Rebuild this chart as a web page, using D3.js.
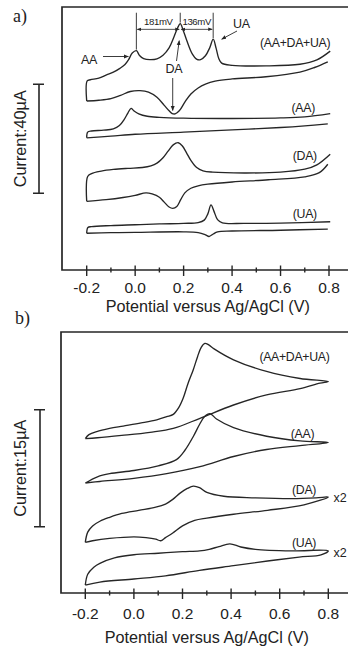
<!DOCTYPE html>
<html>
<head>
<meta charset="utf-8">
<script src="https://cdn.jsdelivr.net/npm/d3@7"></script>
<style>
  html, body { margin: 0; padding: 0; background: #fff; }
  svg { display: block; }
  text { fill: #222; }
</style>
</head>
<body>
<svg id="chart" width="348" height="654"></svg>
<script>
// ---- axis ticks -----------------------------------------------------------
const majorTicks = [-0.2, 0.0, 0.2, 0.4, 0.6, 0.8];
const minorTicks = [-0.1, 0.1, 0.3, 0.5, 0.7];
const tickLabels = ["-0.2", "0.0", "0.2", "0.4", "0.6", "0.8"];
const axisTitle = "Potential versus Ag/AgCl (V)";

// ---- (a) cyclic voltammograms: [potential V, current µA (stacked)] -------
const mixA_fwd = [[-0.2,62.0],[-0.198,69.4],[-0.185,69.8],[-0.15,70.4],[-0.118,71.6],[-0.09,72.6],[-0.063,74.0],[-0.042,75.4],[-0.027,77.2],[-0.012,79.6],[0.005,80.5],[0.018,78.7],[0.035,77.6],[0.061,77.2],[0.09,77.5],[0.115,78.8],[0.14,81.5],[0.16,85.5],[0.175,88.8],[0.186,90.4],[0.198,88.0],[0.213,84.2],[0.235,79.4],[0.255,77.3],[0.27,77.2],[0.29,78.6],[0.308,81.6],[0.322,84.7],[0.334,81.4],[0.345,77.6],[0.357,75.9],[0.4,75.1],[0.54,74.9],[0.68,75.5],[0.75,77.1],[0.805,80.3]];
const mixA_rev = [[0.795,76.4],[0.74,74.3],[0.68,72.6],[0.54,70.9],[0.4,70.1],[0.33,69.3],[0.29,68.2],[0.26,66.8],[0.23,64.6],[0.205,61.6],[0.182,58.4],[0.165,57.3],[0.153,57.4],[0.14,58.4],[0.12,60.4],[0.09,63.4],[0.055,65.3],[0.02,65.8],[-0.02,65.5],[-0.06,64.1],[-0.1,62.9],[-0.15,62.3],[-0.2,62.0]];

const aaA_fwd = [[-0.2,48.5],[-0.196,50.6],[-0.18,51.0],[-0.13,51.3],[-0.09,51.8],[-0.065,53.0],[-0.045,55.3],[-0.03,57.6],[-0.017,59.3],[-0.005,58.4],[0.015,57.3],[0.05,56.4],[0.1,56.0],[0.2,55.7],[0.4,55.6],[0.6,55.8],[0.7,56.2],[0.805,57.4]];
const aaA_rev = [[0.795,53.6],[0.7,52.9],[0.6,52.3],[0.4,51.4],[0.2,50.6],[0.0,49.8],[-0.1,49.1],[-0.2,48.5]];

const daA_fwd = [[-0.2,25.2],[-0.196,34.3],[-0.18,35.4],[-0.14,36.3],[-0.09,36.9],[-0.03,37.3],[0.03,37.6],[0.065,38.2],[0.09,39.2],[0.115,41.2],[0.135,43.5],[0.157,45.9],[0.178,46.7],[0.195,45.5],[0.212,43.0],[0.23,40.2],[0.254,37.6],[0.28,36.4],[0.32,35.9],[0.45,35.6],[0.6,35.9],[0.7,37.0],[0.75,38.6],[0.805,42.5]];
const daA_rev = [[0.795,38.8],[0.76,35.7],[0.7,34.2],[0.55,33.1],[0.4,32.3],[0.3,31.5],[0.26,30.9],[0.23,30.0],[0.205,28.3],[0.188,25.8],[0.172,23.3],[0.155,22.6],[0.14,23.1],[0.12,24.9],[0.1,26.7],[0.07,27.9],[0.045,28.3],[0.0,27.4],[-0.05,26.6],[-0.12,25.8],[-0.2,25.2]];

const uaA_fwd = [[-0.2,13.5],[-0.195,15.6],[-0.18,15.9],[-0.1,16.3],[0.0,16.6],[0.1,16.9],[0.2,17.1],[0.26,17.4],[0.285,18.3],[0.3,20.6],[0.313,23.9],[0.325,21.6],[0.34,18.5],[0.36,17.3],[0.45,17.1],[0.6,17.2],[0.805,17.7]];
const uaA_rev = [[0.795,15.0],[0.6,14.6],[0.4,14.3],[0.34,14.0],[0.322,13.2],[0.305,12.3],[0.29,12.9],[0.26,13.7],[0.2,14.0],[0.0,13.8],[-0.1,13.7],[-0.2,13.5]];

// ---- (b) voltammograms: [potential V, current µA (stacked)] ---------------
const mixB_fwd = [[-0.2,19.8],[-0.185,20.3],[-0.153,20.7],[-0.1,21.1],[-0.044,21.4],[0.03,21.8],[0.094,22.2],[0.135,22.6],[0.162,22.9],[0.185,23.8],[0.203,25.0],[0.222,26.8],[0.244,28.6],[0.262,30.3],[0.277,31.5],[0.292,32.0],[0.308,31.8],[0.33,31.3],[0.41,29.9],[0.546,28.4],[0.684,27.5],[0.8,27.1]];
const mixB_rev = [[0.8,27.1],[0.766,26.9],[0.684,26.2],[0.546,25.4],[0.41,24.1],[0.272,22.4],[0.162,21.1],[0.066,20.6],[-0.05,20.2],[-0.15,19.9],[-0.2,19.8]];

const aaB_fwd = [[-0.2,14.1],[-0.15,14.9],[-0.1,15.3],[0.0,15.7],[0.1,16.3],[0.175,17.1],[0.21,18.3],[0.245,20.1],[0.27,21.6],[0.29,22.6],[0.313,23.0],[0.34,22.3],[0.41,21.2],[0.546,20.1],[0.684,19.5],[0.8,19.3]];
const aaB_rev = [[0.8,19.3],[0.684,18.9],[0.546,18.4],[0.41,17.5],[0.272,16.2],[0.135,15.3],[0.0,14.7],[-0.14,14.3],[-0.2,14.1]];

const daB_fwd = [[-0.2,6.5],[-0.19,7.8],[-0.17,8.6],[-0.14,9.2],[-0.1,9.7],[-0.05,10.2],[0.02,10.6],[0.09,11.0],[0.13,11.4],[0.16,12.0],[0.19,12.8],[0.22,13.4],[0.245,13.7],[0.27,13.5],[0.3,12.9],[0.37,12.4],[0.5,12.2],[0.65,12.1],[0.75,12.2],[0.8,12.3]];
const daB_rev = [[0.8,11.9],[0.7,11.3],[0.55,10.6],[0.41,10.1],[0.3,9.6],[0.25,9.3],[0.2,8.6],[0.16,7.7],[0.13,7.1],[0.11,6.7],[0.09,6.9],[0.05,7.1],[0.0,7.2],[-0.1,7.0],[-0.17,6.7],[-0.2,6.5]];

const uaB_fwd = [[-0.2,1.0],[-0.19,2.4],[-0.165,3.3],[-0.14,3.8],[-0.08,4.5],[0.0,4.9],[0.1,5.1],[0.2,5.3],[0.27,5.4],[0.31,5.6],[0.35,5.95],[0.395,6.3],[0.44,5.9],[0.5,5.6],[0.65,5.4],[0.8,5.4]];
const uaB_rev = [[0.8,5.1],[0.77,4.9],[0.68,4.6],[0.55,4.1],[0.41,3.5],[0.27,2.9],[0.13,2.2],[0.0,1.8],[-0.14,1.4],[-0.2,1.0]];

// trace names as printed, and the x2 magnification markers of panel (b)
const traceNames = ["(AA+DA+UA)", "(AA)", "(DA)", "(UA)"];
const magnifyB = ["", "", "x2", "x2"];

// oxidation peak potentials (V) of the mixture in (a)
const peakAA = 0.005, peakDA = 0.186, peakUA = 0.322;

// ---- layout ---------------------------------------------------------------
const INK = "#262626";
const panels = [
  {
    letter: "a)", letterX: 13, letterY: 22,
    left: 62, top: 7, axisY: 270, xRange: [86.7, 329], yMax: 96.5,
    tickDy: 23.3, titleY: 311.5, joinEnds: false,
    bar: { x: 39, base: 28.15, span: 40, label: "Current:40µA" },
    traces: [[mixA_fwd, mixA_rev], [aaA_fwd, aaA_rev], [daA_fwd, daA_rev], [uaA_fwd, uaA_rev]],
    labelAt: [[0.805, 81.8], [0.742, 57.8], [0.75, 40.4], [0.75, 19.2]],
    magnify: ["", "", "", ""]
  },
  {
    letter: "b)", letterX: 15, letterY: 324,
    left: 61, top: 332, axisY: 593, xRange: [85.3, 328.3], yMax: 33.46,
    tickDy: 25.7, titleY: 643, joinEnds: true,
    bar: { x: 40, base: 8.5, span: 15, label: "Current:15µA" },
    traces: [[mixB_fwd, mixB_rev], [aaB_fwd, aaB_rev], [daB_fwd, daB_rev], [uaB_fwd, uaB_rev]],
    labelAt: [[0.805, 29.7], [0.742, 19.9], [0.75, 12.7], [0.75, 5.9]],
    magnify: magnifyB,
    magAt: [null, null, [0.821, 11.7], [0.821, 4.6]]
  }
];

const svg = d3.select("#chart");
const defs = svg.append("defs");
defs.append("marker")
  .attr("id", "head")
  .attr("viewBox", "0 0 10 10")
  .attr("refX", 9).attr("refY", 5)
  .attr("markerWidth", 5.5).attr("markerHeight", 5.5)
  .attr("orient", "auto-start-reverse")
  .append("path").attr("d", "M0,1 L10,5 L0,9 z").attr("fill", INK);

const FONT = "'Liberation Sans', Arial, sans-serif";

panels.forEach((p, pi) => {
  const x = d3.scaleLinear().domain([-0.2, 0.8]).range(p.xRange);
  const y = d3.scaleLinear().domain([0, p.yMax]).range([p.axisY, p.top]);
  const g = svg.append("g");

  // frame: left and top edges, bottom axis line
  g.append("path")
    .attr("d", `M348,${p.top}H${p.left}V${p.axisY}H348`)
    .attr("fill", "none").attr("stroke", INK).attr("stroke-width", 1.7);

  // ticks crossing the axis line
  g.selectAll(".maj").data(majorTicks).join("line")
    .attr("x1", d => x(d)).attr("x2", d => x(d))
    .attr("y1", p.axisY - 4.5).attr("y2", p.axisY + 6)
    .attr("stroke", INK).attr("stroke-width", 1.4);
  g.selectAll(".min").data(minorTicks).join("line")
    .attr("x1", d => x(d)).attr("x2", d => x(d))
    .attr("y1", p.axisY - 2.5).attr("y2", p.axisY + 2.5)
    .attr("stroke", INK).attr("stroke-width", 1.4);
  g.selectAll(".tl").data(majorTicks).join("text")
    .attr("x", d => x(d)).attr("y", p.axisY + p.tickDy)
    .attr("text-anchor", "middle")
    .attr("font-family", FONT).attr("font-size", 15.5)
    .text((d, i) => tickLabels[i]);
  g.append("text")
    .attr("x", (x(-0.2) + x(0.8)) / 2 + 0).attr("y", p.titleY)
    .attr("text-anchor", "middle")
    .attr("font-family", FONT).attr("font-size", 16.2)
    .text(axisTitle);

  // panel letter
  g.append("text")
    .attr("x", p.letterX).attr("y", p.letterY)
    .attr("font-family", "'Liberation Serif', 'Times New Roman', serif")
    .attr("font-size", 18)
    .text(p.letter);

  // current scale bar
  const b0 = y(p.bar.base), b1 = y(p.bar.base + p.bar.span);
  g.append("path")
    .attr("d", `M${p.bar.x - 6},${b1}H${p.bar.x + 5}M${p.bar.x},${b1}V${b0}M${p.bar.x - 6},${b0}H${p.bar.x + 5}`)
    .attr("fill", "none").attr("stroke", INK).attr("stroke-width", 1.6);
  g.append("text")
    .attr("transform", `translate(26,${(b0 + b1) / 2}) rotate(-90)`)
    .attr("text-anchor", "middle")
    .attr("font-family", FONT).attr("font-size", 16.3)
    .text(p.bar.label);

  // voltammograms: forward and reverse sweeps
  const line = d3.line()
    .x(d => x(d[0])).y(d => y(d[1]))
    .curve(d3.curveCatmullRom.alpha(0.5));
  p.traces.forEach(([fwd, rev], i) => {
    const runs = p.joinEnds ? [fwd.concat(rev.slice(1))] : [fwd, rev];
    runs.forEach(run => {
      g.append("path")
        .datum(run)
        .attr("d", line)
        .attr("fill", "none").attr("stroke", INK)
        .attr("stroke-width", 1.35).attr("stroke-linejoin", "round");
    });
    g.append("text")
      .attr("x", x(p.labelAt[i][0])).attr("y", y(p.labelAt[i][1]))
      .attr("text-anchor", "end")
      .attr("font-family", FONT).attr("font-size", 12.3)
      .attr("letter-spacing", -0.3)
      .text(traceNames[i]);
    if (p.magnify[i]) {
      g.append("text")
        .attr("x", x(p.magAt[i][0])).attr("y", y(p.magAt[i][1]))
        .attr("font-family", FONT).attr("font-size", 12.5)
        .text(p.magnify[i]);
    }
  });

  // peak annotations of the mixture in (a)
  if (pi === 0) {
    const peakI = v => mixA_fwd.find(d => d[0] === v)[1];
    const guideTop = 94.4, arrowI = 88.3;
    [peakAA, peakDA, peakUA].forEach(v => {
      g.append("line")
        .attr("x1", x(v)).attr("x2", x(v))
        .attr("y1", y(guideTop)).attr("y2", y(peakI(v)) - 1)
        .attr("stroke", INK).attr("stroke-width", 0.9);
    });
    const spans = [[peakAA, peakDA], [peakDA, peakUA]];
    spans.forEach(([v0, v1]) => {
      g.append("line")
        .attr("x1", x(v0) + 1).attr("x2", x(v1) - 1)
        .attr("y1", y(arrowI)).attr("y2", y(arrowI))
        .attr("stroke", INK).attr("stroke-width", 0.8)
        .attr("marker-start", "url(#head)").attr("marker-end", "url(#head)");
      g.append("text")
        .attr("x", (x(v0) + x(v1)) / 2).attr("y", y(arrowI) - 4.5)
        .attr("text-anchor", "middle")
        .attr("font-family", FONT).attr("font-size", 9.6)
        .attr("letter-spacing", -0.4)
        .text(`${Math.round((v1 - v0) * 1000)}mV`);
    });

    // species call-outs
    const callText = (t, tx, ty, anchor) => g.append("text")
      .attr("x", tx).attr("y", ty).attr("text-anchor", anchor)
      .attr("font-family", FONT).attr("font-size", 12.5)
      .attr("letter-spacing", -0.3).text(t);
    const arrow = (x1, y1, x2, y2) => g.append("line")
      .attr("x1", x1).attr("y1", y1).attr("x2", x2).attr("y2", y2)
      .attr("stroke", INK).attr("stroke-width", 0.9)
      .attr("marker-end", "url(#head)");

    callText("AA", 97, 64, "end");
    arrow(103, 56.5, x(peakAA) - 8, 56.5);
    callText("DA", 174, 73, "middle");
    arrow(176.5, 61, x(peakDA) - 1, y(peakI(peakDA)) + 17);
    arrow(x(0.155), 78, x(0.155), y(57.8) - 2);
    callText("UA", 233, 28, "start");
    arrow(237, 31, x(peakUA) + 8.5, y(peakI(peakUA)));
  }
});
</script>
</body>
</html>
